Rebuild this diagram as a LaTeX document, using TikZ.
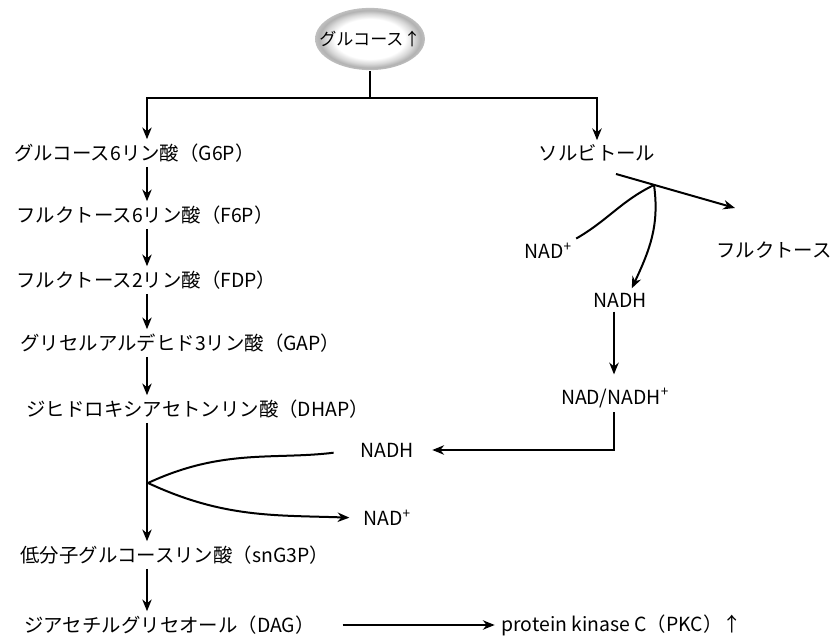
\documentclass[tikz,border=0pt]{standalone}
\usepackage{fontspec}
\setmainfont{Noto Sans CJK JP}
\usepackage{tikz}
\usetikzlibrary{arrows.meta, positioning, shapes.geometric}
\pgfdeclareradialshading{glcshade}{\pgfpoint{0bp}{0bp}}{color(0bp)=(white); color(16bp)=(white); color(20bp)=(gray!30); color(23bp)=(gray!60); color(25bp)=(gray!50); color(50bp)=(gray!50)}
\tikzset{
	->, % todas las lineas llevan flecha
	>={Stealth[length=10pt, width=8pt]}, % punta de flecha rellena
	every node/.style={font=\fontsize{16.5}{20}\selectfont, inner sep=3pt}, % texto de los nodos
	izq/.style={anchor=west}, % compuestos alineados a la izquierda
	glucosa/.style={ellipse, shade, shading=glcshade, font=\fontsize{14.5}{17}\selectfont, inner xsep=-10pt, inner ysep=12pt} % nodo de partida
}

\begin{document}
\begin{tikzpicture}[x=0.85pt, y=0.85pt, line width=1.7pt]
	\useasboundingbox (0,0) rectangle (834,-639);
	% glucolisis
	\node[glucosa] (glc) at (370,-39) {グルコース↑};
	\node[izq] (g6p) at (10,-153) {グルコース6リン酸（G6P）};
	\node[izq] (f6p) at (12,-215) {フルクトース6リン酸（F6P）};
	\node[izq] (fdp) at (12,-280) {フルクトース2リン酸（FDP）};
	\node[izq] (gap) at (16,-343) {グリセルアルデヒド3リン酸（GAP）};
	\node[izq] (dhap) at (22,-409) {ジヒドロキシアセトンリン酸（DHAP）};
	\node[izq] (g3p) at (16,-555) {低分子グルコースリン酸（snG3P）};
	\node[izq] (dag) at (20,-625) {ジアセチルグリセオール（DAG）};
	\node[izq] (pkc) at (497,-625) {protein kinase C（PKC）↑};
	\node (nadh2) at (387,-450) {NADH};
	\node (nad2) at (387,-518) {NAD\textsuperscript{+}};
	% via de los polioles
	\node (sorb) at (597,-153) {ソルビトール};
	\node (nad1) at (548,-251) {NAD\textsuperscript{+}};
	\node (fruc) at (774,-250) {フルクトース};
	\node (nadh1) at (620,-300) {NADH};
	\node (nadnadh) at (615,-398) {NAD/NADH\textsuperscript{+}};

	\coordinate (lx) at (147,0);
	\coordinate (rx) at (614,0);
	\coordinate (fork) at (370,-98);
	\coordinate (br) at (148,-483);
	\coordinate (r0) at (616,-174);
	\coordinate (r1) at (735,-208);
	\coordinate (j) at (654,-185);

	\draw[-] (glc.south) -- (fork);
	\draw (fork) -| (g6p.north -| lx);
	\draw (fork) -| (sorb.north);
	\draw[-]	(g6p.south -| lx) edge[->] (f6p.north -| lx)
			(f6p.south -| lx) edge[->] (fdp.north -| lx)
			(fdp.south -| lx) edge[->] (gap.north -| lx)
			(gap.south -| lx) edge[->] (dhap.north -| lx)
			(dhap.south -| lx) edge[->] (g3p.north -| lx)
			(g3p.south -| lx) edge[->] (dag.north -| lx)
			;
	\draw[-, shorten >=19pt] (br) to[out=25, in=187] (nadh2.west);
	\draw[shorten >=8pt] (br) to[out=-25, in=178] (nad2.west);
	\draw[shorten <=20pt, shorten >=2pt] (dag.east) -- (pkc.west);

	\draw (r0) -- (r1);
	\draw[-] (nad1.north east) to[out=30, in=206] (j);
	\draw (j) to[out=-82, in=65] ([xshift=10pt]nadh1.north);
	\draw[shorten >=8pt] (nadh1.south -| rx) -- (nadnadh.north -| rx);
	\draw[shorten >=12pt] (nadnadh.south -| rx) |- (nadh2.east);
\end{tikzpicture}
\end{document}
